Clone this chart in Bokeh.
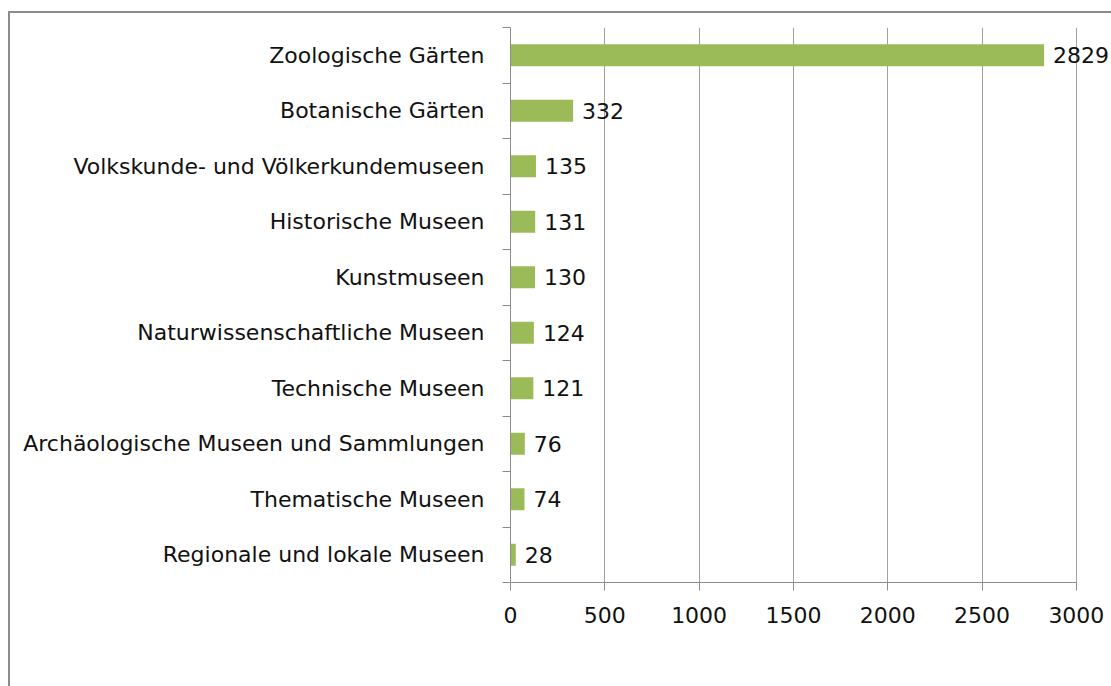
from bokeh.plotting import figure
from bokeh.models import ColumnDataSource, Range1d, FixedTicker, LabelSet
from bokeh.core.properties import value
from bokeh.embed import file_html
from bokeh.resources import INLINE

categories = [
    "Zoologische Gärten",
    "Botanische Gärten",
    "Volkskunde- und Völkerkundemuseen",
    "Historische Museen",
    "Kunstmuseen",
    "Naturwissenschaftliche Museen",
    "Technische Museen",
    "Archäologische Museen und Sammlungen",
    "Thematische Museen",
    "Regionale und lokale Museen",
]
values = [2829, 332, 135, 131, 130, 124, 121, 76, 74, 28]
x_ticks = [0, 500, 1000, 1500, 2000, 2500, 3000]

n = len(categories)
ypos = [n - 0.5 - i for i in range(n)]
src = ColumnDataSource(dict(y=ypos, v=values, lab=[str(v) for v in values], cat=categories))

FONT = "DejaVu Sans"
FS = "22px"
AX = x_ticks[-1]
# frame spans 601 px while the 0..3000 axis spans 564 px, leaving room for the end label
XEND = AX * 601 / 564

p = figure(width=1103, height=675, output_backend="svg", toolbar_location=None,
           title=None, x_range=Range1d(0, XEND), y_range=Range1d(0, n),
           min_border_left=500, min_border_right=0, min_border_top=14, min_border_bottom=106)
p.styles = {"margin-left": "8px", "margin-top": "11px",
            "border-top": "2px solid #8c8c8c", "border-left": "2px solid #8c8c8c",
            "box-sizing": "border-box"}
p.outline_line_color = None
p.background_fill_color = "white"
p.border_fill_color = "white"

p.hbar(y="y", right="v", left=0, height=0.4, source=src, fill_color="#9BBB59", line_color=None)

labels = LabelSet(x="v", y="y", text="lab", source=src, x_offset=9, text_baseline="middle",
                  text_font=value(FONT), text_font_size=value(FS), text_color="#111111")
p.add_layout(labels)

# x axis
p.xaxis.ticker = FixedTicker(ticks=x_ticks, minor_ticks=[])
p.xaxis.bounds = (0, AX)
p.xaxis.axis_line_color = "#8c8c8c"
p.xaxis.major_tick_line_color = "#8c8c8c"
p.xaxis.major_tick_out = 8
p.xaxis.major_tick_in = 0
p.xaxis.minor_tick_line_color = None
p.xaxis.major_label_standoff = 16
p.xaxis.major_label_text_font = FONT
p.xaxis.major_label_text_font_size = FS
p.xaxis.major_label_text_color = "#111111"

# y axis
p.yaxis.ticker = FixedTicker(ticks=ypos, minor_ticks=list(range(n + 1)))
p.yaxis.major_label_overrides = {y: c for y, c in zip(ypos, categories)}
p.yaxis.axis_line_color = "#8c8c8c"
p.yaxis.major_tick_line_color = None
p.yaxis.major_tick_out = 0
p.yaxis.major_tick_in = 0
p.yaxis.minor_tick_line_color = "#8c8c8c"
p.yaxis.minor_tick_out = 8
p.yaxis.minor_tick_in = 0
p.yaxis.major_label_standoff = 18
p.yaxis.major_label_text_font = FONT
p.yaxis.major_label_text_font_size = FS
p.yaxis.major_label_text_color = "#111111"

p.xgrid.grid_line_color = "#a0a0a0"
p.xgrid.grid_line_width = 1
p.ygrid.grid_line_color = None

open("out.html", "w").write(file_html(p, INLINE))
